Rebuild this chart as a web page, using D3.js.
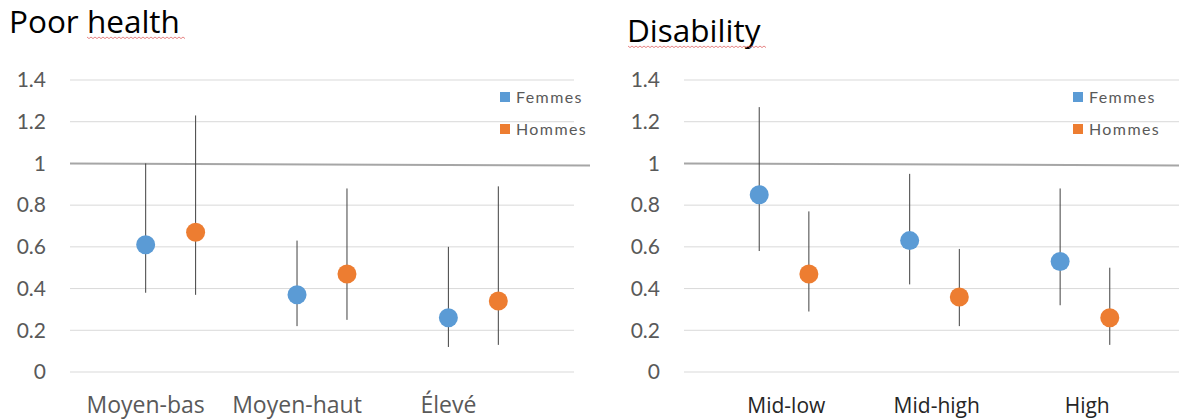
<!DOCTYPE html>
<html>
<head>
<meta charset="utf-8">
<script src="https://cdn.jsdelivr.net/npm/d3@7"></script>
<style>
  body { margin: 0; background: #fff; }
  svg { font-family: "Open Sans", Lato, sans-serif; }
</style>
</head>
<body>
<svg id="chart" width="1179" height="420"></svg>
<script>
// data
const seriesNames = ['Femmes', 'Hommes'];
const seriesColors = ['#5b9bd5', '#ed7d31'];
const yTicks = [0, 0.2, 0.4, 0.6, 0.8, 1, 1.2, 1.4];

const healthCats = ['Moyen-bas', 'Moyen-haut', 'Élevé'];
const healthFemmes = [0.61, 0.37, 0.26];
const healthFemmesLow = [0.38, 0.22, 0.12];
const healthFemmesHigh = [1.0, 0.63, 0.60];
const healthHommes = [0.67, 0.47, 0.34];
const healthHommesLow = [0.37, 0.25, 0.13];
const healthHommesHigh = [1.23, 0.88, 0.89];

const disabCats = ['Mid-low', 'Mid-high', 'High'];
const disabFemmes = [0.85, 0.63, 0.53];
const disabFemmesLow = [0.58, 0.42, 0.32];
const disabFemmesHigh = [1.27, 0.95, 0.88];
const disabHommes = [0.47, 0.36, 0.26];
const disabHommesLow = [0.29, 0.22, 0.13];
const disabHommesHigh = [0.77, 0.59, 0.50];

const svg = d3.select('#chart');

function drawPanel(opts) {
  const g = svg.append('g');
  const x = d3.scaleLinear().domain([0.5, 3.83]).range([opts.left, opts.right]);
  const y = d3.scaleLinear().domain([0, 1.4]).range([372, 80]);

  // title
  g.append('text')
    .attr('x', opts.titleX).attr('y', opts.titleY)
    .attr('font-size', 31.5).attr('fill', '#000')
    .text(opts.title);

  // red spell-check squiggle
  const sq = [];
  for (let k = 0, px = opts.squigX0; px <= opts.squigX1; k++, px += 2) {
    sq.push([px, opts.titleY + 4 + (k % 2 === 0 ? 0 : 1.6)]);
  }
  g.append('path')
    .attr('d', d3.line()(sq))
    .attr('fill', 'none').attr('stroke', '#e06666').attr('stroke-width', 0.8);

  // gridlines
  g.selectAll('.grid')
    .data(yTicks.filter(t => t !== 1))
    .enter().append('line')
    .attr('x1', opts.left).attr('x2', opts.gridRight)
    .attr('y1', d => y(d)).attr('y2', d => y(d))
    .attr('stroke', '#d9d9d9').attr('stroke-width', 1);

  // y axis labels
  const yAxis = d3.axisLeft(y).tickValues(yTicks).tickSize(0).tickPadding(0)
    .tickFormat(d => String(+d.toFixed(1)));
  const ya = g.append('g')
    .attr('transform', 'translate(' + opts.yLabelX + ',0)')
    .call(yAxis);
  ya.select('.domain').remove();
  ya.selectAll('text')
    .attr('font-size', 21).attr('fill', '#595959')
    .attr('font-family', 'Lato, "Open Sans", sans-serif');

  // reference line at 1
  g.append('line')
    .attr('x1', opts.left).attr('x2', opts.refRight)
    .attr('y1', y(1)).attr('y2', y(0.99))
    .attr('stroke', '#a6a6a6').attr('stroke-width', 2);

  // x labels
  g.selectAll('.xlab')
    .data(opts.cats)
    .enter().append('text')
    .attr('x', (d, i) => x(i + 1 + opts.labelShift))
    .attr('y', 413)
    .attr('text-anchor', 'middle')
    .attr('font-size', opts.xFont).attr('fill', opts.xColor)
    .text(d => d);

  // points with error bars
  const series = [
    {name: seriesNames[0], color: seriesColors[0], off: 0, v: opts.f, lo: opts.fLo, hi: opts.fHi},
    {name: seriesNames[1], color: seriesColors[1], off: 0.33, v: opts.h, lo: opts.hLo, hi: opts.hHi}
  ];
  series.forEach(s => {
    const pts = s.v.map((v, i) => ({x: i + 1 + s.off, v: v, lo: s.lo[i], hi: s.hi[i]}));
    g.selectAll(null).data(pts).enter().append('line')
      .attr('x1', d => x(d.x)).attr('x2', d => x(d.x))
      .attr('y1', d => y(d.lo)).attr('y2', d => y(d.hi))
      .attr('stroke', '#404040').attr('stroke-width', 1);
    g.selectAll(null).data(pts).enter().append('circle')
      .attr('cx', d => x(d.x)).attr('cy', d => y(d.v))
      .attr('r', 9.5).attr('fill', s.color);
  });

  // legend
  const lg = g.append('g').attr('transform', 'translate(' + opts.legendX + ',97)');
  seriesNames.forEach((n, i) => {
    lg.append('rect')
      .attr('x', 0).attr('y', i * 32 - 5).attr('width', 10).attr('height', 10)
      .attr('fill', seriesColors[i]);
    lg.append('text')
      .attr('x', 16).attr('y', i * 32 + 6)
      .attr('font-size', 16).attr('fill', '#595959')
      .attr('font-family', 'Lato, "Open Sans", sans-serif')
      .attr('letter-spacing', 1.4)
      .text(n);
  });
}

drawPanel({
  title: 'Poor health', titleX: 9, titleY: 33, squigX0: 87, squigX1: 185,
  left: 70, right: 574, gridRight: 574, refRight: 590, yLabelX: 46,
  cats: healthCats, labelShift: 0, xFont: 23, xColor: '#595959',
  f: healthFemmes, fLo: healthFemmesLow, fHi: healthFemmesHigh,
  h: healthHommes, hLo: healthHommesLow, hHi: healthHommesHigh,
  legendX: 500
});

drawPanel({
  title: 'Disability', titleX: 627, titleY: 42, squigX0: 628, squigX1: 766,
  left: 684, right: 1185, gridRight: 1179, refRight: 1179, yLabelX: 660,
  cats: disabCats, labelShift: 0.18, xFont: 21, xColor: '#262626',
  f: disabFemmes, fLo: disabFemmesLow, fHi: disabFemmesHigh,
  h: disabHommes, hLo: disabHommesLow, hHi: disabHommesHigh,
  legendX: 1073
});
</script>
</body>
</html>
